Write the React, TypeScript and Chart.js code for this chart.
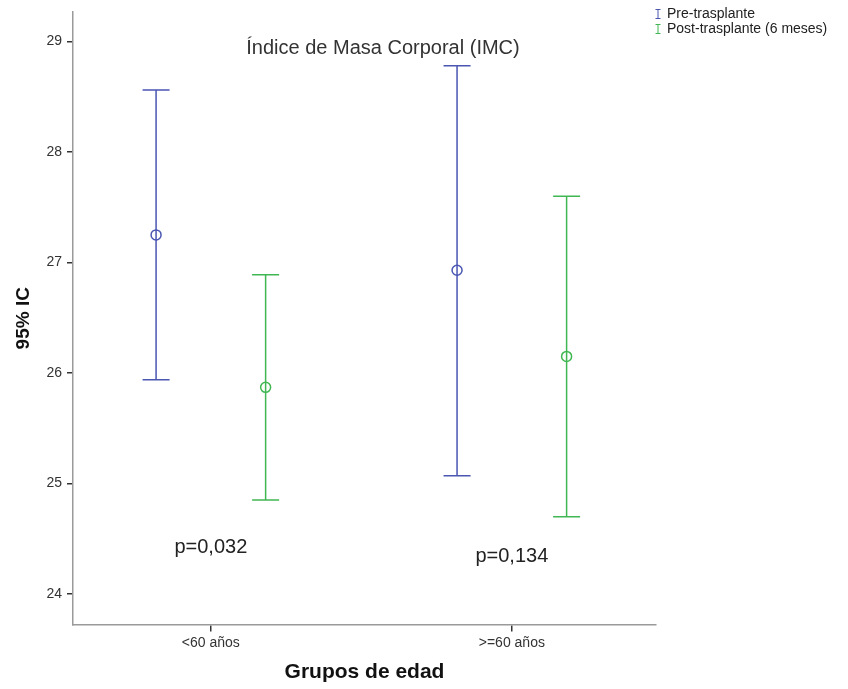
import React, { useEffect, useRef } from "react";
import { Chart, registerables } from "chart.js";

Chart.register(...registerables);

const CATEGORIES = ["<60 años", ">=60 años"];
const SERIES = ["Pre-trasplante", "Post-trasplante (6 meses)"];
const PRE_MEAN = [27.25, 26.93];
const PRE_LOW = [25.94, 25.07];
const PRE_HIGH = [28.56, 28.78];
const POST_MEAN = [25.87, 26.15];
const POST_LOW = [24.85, 24.7];
const POST_HIGH = [26.89, 27.6];
const Y_TICKS = [24, 25, 26, 27, 28, 29];
const P_VALUES = ["p=0,032", "p=0,134"];
const P_Y = [24.42, 24.34];
const TITLE = "Índice de Masa Corporal (IMC)";

const COLORS = ["#4a56b2", "#40b752"];
const OFFSETS = [-0.182, 0.182];
const FONT = "'Liberation Sans', Arial, sans-serif";

const errorBarPlugin = {
  id: "errorBars",
  beforeDatasetsDraw(chart: any) {
    const { ctx, scales } = chart;
    const xs = scales.x;
    const ys = scales.y;
    const lows = [PRE_LOW, POST_LOW];
    const highs = [PRE_HIGH, POST_HIGH];
    ctx.save();
    for (let s = 0; s < 2; s++) {
      ctx.strokeStyle = COLORS[s];
      ctx.lineWidth = 1.5;
      for (let i = 0; i < CATEGORIES.length; i++) {
        const x = xs.getPixelForValue(i + OFFSETS[s]);
        const yl = ys.getPixelForValue(lows[s][i]);
        const yh = ys.getPixelForValue(highs[s][i]);
        ctx.beginPath();
        ctx.moveTo(x, yl);
        ctx.lineTo(x, yh);
        ctx.moveTo(x - 13.5, yl);
        ctx.lineTo(x + 13.5, yl);
        ctx.moveTo(x - 13.5, yh);
        ctx.lineTo(x + 13.5, yh);
        ctx.stroke();
      }
    }
    ctx.restore();
  },
  afterDraw(chart: any) {
    const { ctx, scales } = chart;
    const xs = scales.x;
    const ys = scales.y;
    ctx.save();
    ctx.textBaseline = "middle";
    // title annotation
    ctx.fillStyle = "#333";
    ctx.font = `20px ${FONT}`;
    ctx.textAlign = "center";
    ctx.fillText(TITLE, xs.getPixelForValue(0.572), ys.getPixelForValue(28.94));
    // p-values
    ctx.fillStyle = "#222";
    ctx.font = `20px ${FONT}`;
    for (let i = 0; i < P_VALUES.length; i++) {
      ctx.fillText(P_VALUES[i], xs.getPixelForValue(i), ys.getPixelForValue(P_Y[i]));
    }
    // legend
    ctx.font = `14px ${FONT}`;
    ctx.textAlign = "left";
    for (let s = 0; s < SERIES.length; s++) {
      const y = 14 + s * 15;
      const x = 658;
      ctx.strokeStyle = COLORS[s];
      ctx.lineWidth = 1;
      ctx.beginPath();
      ctx.moveTo(x, y - 4.5);
      ctx.lineTo(x, y + 4.5);
      ctx.moveTo(x - 2.5, y - 4.5);
      ctx.lineTo(x + 2.5, y - 4.5);
      ctx.moveTo(x - 2.5, y + 4.5);
      ctx.lineTo(x + 2.5, y + 4.5);
      ctx.stroke();
      ctx.fillStyle = "#222";
      ctx.fillText(SERIES[s], 667, y);
    }
    ctx.restore();
  },
};

export default function App() {
  const ref = useRef<HTMLCanvasElement | null>(null);
  useEffect(() => {
    document.body.style.margin = "0";
    const canvas = ref.current;
    if (!canvas) return;
    const means = [PRE_MEAN, POST_MEAN];
    const chart = new Chart(canvas, {
      type: "scatter",
      data: {
        datasets: SERIES.map((name, s) => ({
          label: name,
          data: CATEGORIES.map((_, i) => ({ x: i + OFFSETS[s], y: means[s][i] })),
          borderColor: COLORS[s],
          backgroundColor: "rgba(0,0,0,0)",
          pointRadius: 5,
          pointBorderWidth: 1.5,
          pointStyle: "circle",
        })),
      },
      options: {
        animation: false,
        responsive: false,
        maintainAspectRatio: false,
        events: [],
        layout: { padding: { left: 0, right: 192, top: 12, bottom: 0 } },
        plugins: { legend: { display: false }, tooltip: { enabled: false } },
        scales: {
          x: {
            type: "linear",
            min: -0.458,
            max: 1.479,
            afterBuildTicks: (s: any) => {
              s.ticks = CATEGORIES.map((_, i) => ({ value: i }));
            },
            afterFit: (s: any) => {
              s.height = 64.5;
              s.paddingLeft = 0;
              s.paddingRight = 0;
              s.paddingTop = 0;
              s.paddingBottom = 0;
            },
            grid: {
              display: true,
              drawOnChartArea: false,
              drawTicks: true,
              tickLength: 7,
              color: "#333",
              lineWidth: 1.5,
            },
            border: { display: true, color: "#9a9a9a", width: 1.5 },
            ticks: {
              autoSkip: false,
              maxRotation: 0,
              padding: 3,
              color: "#333",
              font: { family: FONT, size: 14 },
              callback: (_v: any, i: number) => CATEGORIES[i],
            },
            title: {
              display: true,
              text: "Grupos de edad",
              color: "#111",
              font: { family: FONT, size: 21, weight: "bold" },
              padding: { top: 0, bottom: 4.5 },
            },
          },
          y: {
            type: "linear",
            min: 23.724,
            max: 29.267,
            afterBuildTicks: (s: any) => {
              s.ticks = Y_TICKS.map((v) => ({ value: v }));
            },
            afterFit: (s: any) => {
              s.width = 73;
              s.paddingLeft = 0;
              s.paddingRight = 0;
              s.paddingTop = 0;
              s.paddingBottom = 0;
            },
            grid: {
              display: true,
              drawOnChartArea: false,
              drawTicks: true,
              tickLength: 6,
              color: "#333",
              lineWidth: 1.5,
            },
            border: { display: true, color: "#9a9a9a", width: 1.5 },
            ticks: {
              autoSkip: false,
              padding: 5,
              color: "#333",
              font: { family: FONT, size: 14 },
              callback: (v: any) => String(v),
            },
            title: {
              display: true,
              text: "95% IC",
              color: "#111",
              font: { family: FONT, size: 19, weight: "bold" },
              padding: { top: 12, bottom: 0 },
            },
          },
        },
      },
      plugins: [errorBarPlugin],
    } as any);
    return () => chart.destroy();
  }, []);
  return (
    <div style={{ width: 848, height: 689, background: "#fff" }}>
      <canvas ref={ref} width={848} height={689} style={{ display: "block", width: 848, height: 689 }} />
    </div>
  );
}
